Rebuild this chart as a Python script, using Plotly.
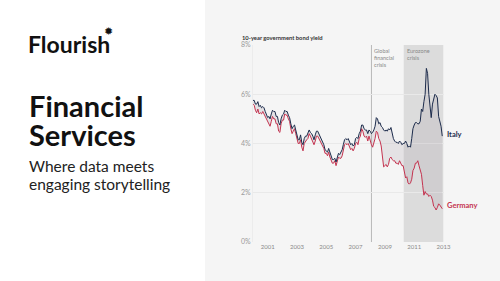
import pandas as pd
import plotly.graph_objects as go

# ---- data (monthly 10-year government bond yields, %) ----
months = pd.date_range("2000-01-01", periods=156, freq="MS")

italy = [
    5.75, 5.75, 5.6, 5.6, 5.7, 5.5, 5.55, 5.45, 5.5, 5.45, 5.3, 5.15,
    5.05, 5.1, 5.0, 5.2, 5.35, 5.3, 5.3, 5.1, 5.1, 4.85, 4.75, 5.0,
    5.15, 5.2, 5.35, 5.3, 5.3, 5.15, 5.05, 4.8, 4.6, 4.7, 4.75, 4.55,
    4.35, 4.15, 4.15, 4.35, 4.05, 3.95, 4.2, 4.3, 4.3, 4.4, 4.55, 4.45,
    4.4, 4.3, 4.15, 4.35, 4.5, 4.5, 4.4, 4.3, 4.2, 4.1, 3.95, 3.75,
    3.7, 3.65, 3.8, 3.65, 3.45, 3.35, 3.35, 3.4, 3.25, 3.4, 3.6, 3.55,
    3.65, 3.75, 3.95, 4.15, 4.2, 4.15, 4.2, 4.05, 3.95, 4.0, 3.9, 3.95,
    4.2, 4.25, 4.2, 4.4, 4.5, 4.75, 4.75, 4.6, 4.55, 4.55, 4.4, 4.55,
    4.5, 4.4, 4.45, 4.55, 4.7, 5.05, 5.0, 4.8, 4.85, 4.7, 4.65, 4.55,
    4.5, 4.55, 4.5, 4.6, 4.55, 4.65, 4.4, 4.2, 4.1, 4.05, 4.05, 4.0,
    4.1, 4.05, 3.95, 4.0, 4.0, 4.1, 4.0, 3.85, 3.9, 3.85, 4.2, 4.6,
    4.75, 4.85, 4.85, 4.8, 4.8, 4.9, 5.4, 5.3, 5.7, 6.0, 7.05, 6.85,
    6.0, 5.3, 5.05, 5.6, 5.75, 6.0, 5.95, 5.85, 5.1, 4.95, 4.7, 4.3,
]

germany = [
    5.6, 5.55, 5.35, 5.25, 5.4, 5.2, 5.25, 5.2, 5.3, 5.2, 5.1, 4.95,
    4.85, 4.8, 4.7, 4.9, 5.1, 5.0, 5.0, 4.8, 4.8, 4.5, 4.45, 4.8,
    4.95, 4.95, 5.2, 5.15, 5.15, 5.0, 4.9, 4.6, 4.4, 4.5, 4.6, 4.4,
    4.2, 4.0, 4.0, 4.15, 3.85, 3.7, 4.0, 4.1, 4.15, 4.2, 4.4, 4.3,
    4.2, 4.1, 3.95, 4.1, 4.3, 4.3, 4.2, 4.1, 4.0, 3.95, 3.8, 3.6,
    3.6, 3.5, 3.65, 3.45, 3.3, 3.2, 3.2, 3.3, 3.1, 3.25, 3.45, 3.4,
    3.4, 3.5, 3.7, 3.95, 4.0, 3.95, 4.0, 3.85, 3.75, 3.8, 3.7, 3.8,
    4.0, 4.05, 3.95, 4.2, 4.3, 4.6, 4.5, 4.3, 4.25, 4.3, 4.1, 4.3,
    4.1, 3.95, 3.85, 4.0, 4.2, 4.5, 4.45, 4.2, 4.1, 3.9, 3.55, 3.05,
    3.1, 3.15, 3.05, 3.15, 3.4, 3.45, 3.35, 3.3, 3.3, 3.2, 3.2, 3.15,
    3.3, 3.2, 3.1, 3.1, 2.8, 2.6, 2.65, 2.4, 2.35, 2.4, 2.55, 2.9,
    3.0, 3.2, 3.2, 3.3, 3.1, 2.95, 2.75, 2.3, 1.9, 2.05, 1.95, 1.95,
    1.85, 1.9, 1.85, 1.7, 1.45, 1.4, 1.3, 1.4, 1.55, 1.5, 1.4, 1.35,
]

tick_years = ["2001", "2003", "2005", "2007", "2009", "2011", "2013"]
y_ticks = [0, 2, 4, 6, 8]
y_labels = ["0%", "2%", "4%", "6%", "8%"]

gfc_date = "2008-02-01"
euro_start = "2010-04-15"
euro_end = "2013-01-01"

FONT = "Lato"
ITALY_C = "#1c2b4b"
GERMANY_C = "#c4334f"

fig = go.Figure()

fig.add_trace(go.Scatter(
    x=months, y=germany, mode="lines",
    line=dict(color=GERMANY_C, width=1), hoverinfo="skip", showlegend=False,
))
fig.add_trace(go.Scatter(
    x=months, y=italy, mode="lines", fill="tonexty",
    fillcolor="rgba(170,160,170,0.22)",
    line=dict(color=ITALY_C, width=1), hoverinfo="skip", showlegend=False,
))

shapes = [
    dict(type="rect", xref="paper", yref="paper", x0=0.41, x1=1.0, y0=0, y1=1,
         fillcolor="#f5f5f5", line=dict(width=0), layer="below"),
    dict(type="rect", xref="x", yref="y", x0=euro_start, x1=euro_end, y0=0, y1=8,
         fillcolor="#dcdcdc", line=dict(width=0), layer="below"),
    dict(type="line", xref="x", yref="y", x0=gfc_date, x1=gfc_date, y0=0, y1=8,
         line=dict(color="#b8b8b8", width=1), layer="below"),
]

annotations = [
    dict(text="Flourish", xref="paper", yref="paper", x=26 / 500, y=1 - 44 / 281,
         xanchor="left", yanchor="middle", showarrow=False,
         font=dict(family=FONT, size=23, color="#111111", weight="bold")),
    dict(text="✹", xref="paper", yref="paper", x=102 / 500, y=1 - 32 / 281,
         xanchor="left", yanchor="middle", showarrow=False,
         font=dict(family="DejaVu Sans", size=11, color="#111111")),
    dict(text="Financial", xref="paper", yref="paper", x=27 / 500, y=1 - 105 / 281,
         xanchor="left", yanchor="middle", showarrow=False,
         font=dict(family=FONT, size=29, color="#111111", weight="bold")),
    dict(text="Services", xref="paper", yref="paper", x=27 / 500, y=1 - 134 / 281,
         xanchor="left", yanchor="middle", showarrow=False,
         font=dict(family=FONT, size=29, color="#111111", weight="bold")),
    dict(text="Where data meets", xref="paper", yref="paper", x=27 / 500, y=1 - 166 / 281,
         xanchor="left", yanchor="middle", showarrow=False,
         font=dict(family=FONT, size=15.5, color="#222222")),
    dict(text="engaging storytelling", xref="paper", yref="paper", x=27 / 500, y=1 - 184 / 281,
         xanchor="left", yanchor="middle", showarrow=False,
         font=dict(family=FONT, size=15.5, color="#222222")),
    dict(text="10-year government bond yield", xref="paper", yref="paper",
         x=240 / 500, y=1 - 37 / 281, xanchor="left", yanchor="middle", showarrow=False,
         font=dict(family=FONT, size=5.8, color="#333333", weight="bold")),
    dict(text="Global<br>financial<br>crisis", xref="x", yref="paper",
         x=gfc_date, xshift=1, y=1 - 46 / 281, xanchor="left", yanchor="top", align="left",
         showarrow=False, font=dict(family=FONT, size=5.5, color="#888888")),
    dict(text="Eurozone<br>crisis", xref="x", yref="paper",
         x=euro_start, xshift=1, y=1 - 46 / 281, xanchor="left", yanchor="top", align="left",
         showarrow=False, font=dict(family=FONT, size=5.5, color="#888888")),
    dict(text="Italy", xref="paper", yref="y", x=445 / 500, y=italy[-1] + 0.05,
         xanchor="left", yanchor="middle", showarrow=False,
         font=dict(family=FONT, size=7.5, color=ITALY_C, weight="bold")),
    dict(text="Germany", xref="paper", yref="y", x=445 / 500, y=germany[-1] + 0.15,
         xanchor="left", yanchor="middle", showarrow=False,
         font=dict(family=FONT, size=7.5, color=GERMANY_C, weight="bold")),
]

fig.update_layout(
    template="none",
    width=500, height=281, autosize=False,
    margin=dict(l=0, r=0, t=0, b=0, pad=0, autoexpand=False),
    paper_bgcolor="white", plot_bgcolor="rgba(0,0,0,0)",
    shapes=shapes, annotations=annotations,
    xaxis=dict(
        domain=[253 / 500, 443.5 / 500], type="date", automargin=False,
        range=["2000-01-01", "2013-01-01"],
        tickvals=[f"{y}-01-01" for y in tick_years], ticktext=tick_years,
        showgrid=False, zeroline=False, showline=False, ticks="",
        tickfont=dict(family=FONT, size=6, color="#8a8a8a"),
    ),
    yaxis=dict(
        domain=[1 - 242 / 281, 1 - 45 / 281], range=[0, 8], automargin=False,
        tickvals=y_ticks, ticktext=y_labels,
        showgrid=True, gridcolor="#e9e9e9", gridwidth=1,
        zeroline=False, showline=True, linecolor="#ececec", ticks="",
        tickfont=dict(family=FONT, size=7, color="#9a9a9a"),
    ),
)

fig.write_html("out.html")
